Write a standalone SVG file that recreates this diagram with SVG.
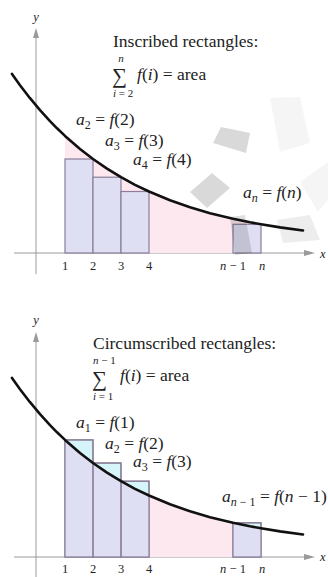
<svg xmlns="http://www.w3.org/2000/svg" width="328" height="577" viewBox="0 0 328 577">
<style>
.ax{stroke:#9a9a9a;stroke-width:1;fill:none}
.ah{fill:#9a9a9a}
.cv{stroke:#111;stroke-width:2.6;fill:none;stroke-linecap:round;stroke-linejoin:round}
.pk{fill:#fde8ef}
.rc{fill:#dfdff3;stroke:#8a7e98;stroke-width:1.2}
.rcc{fill:#d6f5fa;stroke:#8a7e98;stroke-width:1.2}
.lav{fill:#dfdff3}
.rs{fill:none;stroke:#8a7e98;stroke-width:1.2}
.gs{fill:#000}
text{font-family:"Liberation Serif","Times New Roman",serif;fill:#222}
.t{font-size:17.5px}
.lb{font-size:17.5px}
.it{font-style:italic}
.sm{font-size:11px}
.sb{font-size:12px}
.tk{font-size:12.5px}
.sg{font-size:21px}
</style>
<defs>
<path id="curve" d="M12,73.9 L20,85.2 L30,98.2 L40,110.1 L50,121.1 L57,128.3 L65,135.9 L80,149 L93,159 L107,168.6 L121,177.2 L135,184.8 L149,191.5 L170,200.3 L190,207.3 L210,213.2 L233,218.8 L250,222.3 L261,224.3 L280,227.4 L303,230.5"/>
<path id="under" d="M65,253 L65,135.9 L80,149 L93,159 L107,168.6 L121,177.2 L135,184.8 L149,191.5 L170,200.3 L190,207.3 L210,213.2 L233,218.8 L250,222.3 L261,224.3 L261,253 Z"/>
<clipPath id="uc"><use href="#under"/></clipPath>
<g id="axes">
<line class="ax" x1="36" y1="36" x2="36" y2="274"/>
<polygon class="ah" points="36,28 33,38 39,38"/>
<line class="ax" x1="14" y1="253" x2="306" y2="253"/>
<polygon class="ah" points="315,253 304,250 304,256"/>
</g>
</defs>

<g id="graph-inscribed">
<use href="#axes"/>
<use href="#under" class="pk"/>
<rect class="rc" x="65" y="159" width="28" height="94"/>
<rect class="rc" x="93" y="177.2" width="28" height="75.8"/>
<rect class="rc" x="121" y="191.5" width="28" height="61.5"/>
<rect class="rc" x="233" y="224.3" width="28" height="28.7"/>
<g id="smudges">
<polygon class="gs" opacity="0.15" points="221,127 250,133 246,153 213,143"/>
<polygon class="gs" opacity="0.15" points="190,192 212,173 230,188 207,208"/>
<polygon class="gs" opacity="0.04" points="270,98 300,97 310,143 280,152"/>
<polygon class="gs" opacity="0.04" points="300,182 328,162 328,200 318,212"/>
<polygon class="gs" opacity="0.07" points="277,220 310,215 320,240 283,243"/>
<polygon class="gs" opacity="0.13" points="230,217 245,215 252,253 235,255"/>
</g>
<use href="#curve" class="cv"/>
</g>

<g id="graph-circumscribed" transform="translate(0,304)">
<use href="#axes"/>
<use href="#under" class="pk"/>
<rect class="rcc" x="65" y="135.9" width="28" height="117.1"/>
<rect class="rcc" x="93" y="159" width="28" height="94"/>
<rect class="rcc" x="121" y="177.2" width="28" height="75.8"/>
<rect class="rcc" x="233" y="218.8" width="28" height="34.2"/>
<g clip-path="url(#uc)">
<rect class="lav" x="65" y="130" width="84" height="123"/>
<rect class="lav" x="233" y="210" width="28" height="43"/>
</g>
<rect class="rs" x="65" y="135.9" width="28" height="117.1"/>
<rect class="rs" x="93" y="159" width="28" height="94"/>
<rect class="rs" x="121" y="177.2" width="28" height="75.8"/>
<rect class="rs" x="233" y="218.8" width="28" height="34.2"/>
<use href="#curve" class="cv"/>
</g>

<g id="labels-top">
<text class="tk it" x="36" y="21" text-anchor="middle">y</text>
<text class="tk it" x="320" y="258">x</text>
<text class="t" x="113" y="47">Inscribed rectangles:</text>
<text class="sm it" x="121" y="62" text-anchor="middle">n</text>
<text class="sg" x="112" y="83">∑</text>
<text class="t" x="137" y="80"><tspan class="it">f</tspan>(<tspan class="it">i</tspan>) = area</text>
<text class="sm" x="113" y="97"><tspan class="it">i</tspan> = 2</text>
<text class="lb" x="76" y="125"><tspan class="it">a</tspan><tspan class="sb" dy="4">2</tspan><tspan dy="-4"> = </tspan><tspan class="it">f</tspan>(2)</text>
<text class="lb" x="105" y="146"><tspan class="it">a</tspan><tspan class="sb" dy="4">3</tspan><tspan dy="-4"> = </tspan><tspan class="it">f</tspan>(3)</text>
<text class="lb" x="133" y="165"><tspan class="it">a</tspan><tspan class="sb" dy="4">4</tspan><tspan dy="-4"> = </tspan><tspan class="it">f</tspan>(4)</text>
<text class="lb" x="243" y="198"><tspan class="it">a</tspan><tspan class="sb it" dy="4">n</tspan><tspan dy="-4"> = </tspan><tspan class="it">f</tspan>(<tspan class="it">n</tspan>)</text>
<text class="tk" x="65" y="270" text-anchor="middle">1</text>
<text class="tk" x="93" y="270" text-anchor="middle">2</text>
<text class="tk" x="121" y="270" text-anchor="middle">3</text>
<text class="tk" x="149" y="270" text-anchor="middle">4</text>
<text class="tk" x="233" y="270" text-anchor="middle"><tspan class="it">n</tspan> − 1</text>
<text class="tk it" x="262" y="270" text-anchor="middle">n</text>
</g>

<g id="labels-bottom">
<text class="tk it" x="36" y="324" text-anchor="middle">y</text>
<text class="tk it" x="320" y="561">x</text>
<text class="t" x="93" y="349">Circumscribed rectangles:</text>
<text class="sm" x="93" y="364"><tspan class="it">n</tspan> − 1</text>
<text class="sg" x="92" y="386">∑</text>
<text class="t" x="120" y="381"><tspan class="it">f</tspan>(<tspan class="it">i</tspan>) = area</text>
<text class="sm" x="93" y="400"><tspan class="it">i</tspan> = 1</text>
<text class="lb" x="76" y="428"><tspan class="it">a</tspan><tspan class="sb" dy="4">1</tspan><tspan dy="-4"> = </tspan><tspan class="it">f</tspan>(1)</text>
<text class="lb" x="105" y="449"><tspan class="it">a</tspan><tspan class="sb" dy="4">2</tspan><tspan dy="-4"> = </tspan><tspan class="it">f</tspan>(2)</text>
<text class="lb" x="133" y="467"><tspan class="it">a</tspan><tspan class="sb" dy="4">3</tspan><tspan dy="-4"> = </tspan><tspan class="it">f</tspan>(3)</text>
<text class="lb" x="222" y="502"><tspan class="it">a</tspan><tspan class="sb" dy="4"><tspan class="it">n</tspan> − 1</tspan><tspan dy="-4"> = </tspan><tspan class="it">f</tspan>(<tspan class="it">n</tspan> − 1)</text>
<text class="tk" x="65" y="573" text-anchor="middle">1</text>
<text class="tk" x="93" y="573" text-anchor="middle">2</text>
<text class="tk" x="121" y="573" text-anchor="middle">3</text>
<text class="tk" x="149" y="573" text-anchor="middle">4</text>
<text class="tk" x="233" y="573" text-anchor="middle"><tspan class="it">n</tspan> − 1</text>
<text class="tk it" x="262" y="573" text-anchor="middle">n</text>
</g>
</svg>
